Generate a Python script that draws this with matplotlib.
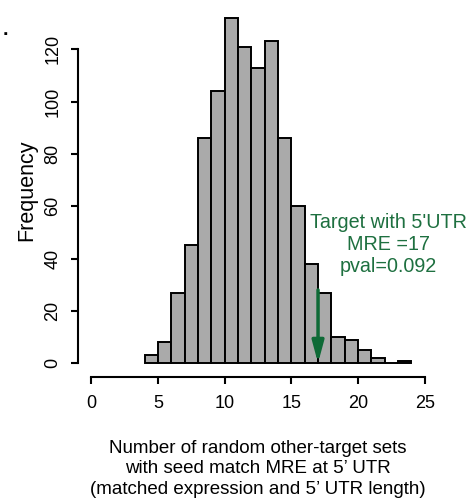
import numpy as np
import matplotlib
matplotlib.use("Agg")
import matplotlib.pyplot as plt

plt.rcParams['font.family'] = ['Liberation Sans', 'DejaVu Sans']

# histogram data (bins of width 1 from 4 to 24)
bin_edges = np.arange(4, 25, 1)
counts = [3, 8, 27, 45, 86, 104, 132, 121, 113, 123, 86, 60, 38, 27, 10, 9, 5, 2, 0, 1]
target_value = 17
arrow_start = 28
annot_text = "Target with 5'UTR\nMRE =17\npval=0.092"
x_ticks = [0, 5, 10, 15, 20, 25]
y_ticks = [0, 20, 40, 60, 80, 100, 120]

fig = plt.figure(figsize=(4.68, 5.03), dpi=100)
ax = fig.add_axes([0.1667, 0.2505, 0.7693, 0.7415])

ax.bar(bin_edges[:-1], counts, width=1, align='edge', color='#aaaaaa',
       edgecolor='black', linewidth=1.4)

ax.set_xlim(-1, 26)
ax.set_ylim(-5.28, 137.28)

for s in ['top', 'right']:
    ax.spines[s].set_visible(False)
ax.spines['left'].set_bounds(0, 120)
ax.spines['bottom'].set_bounds(0, 25)
for s in ['left', 'bottom']:
    ax.spines[s].set_linewidth(1.5)

ax.set_xticks(x_ticks)
ax.set_yticks(y_ticks)
ax.tick_params(axis='both', length=5, width=1.5, labelsize=13)
ax.tick_params(axis='x', pad=8)
ax.tick_params(axis='y', pad=7)
for lab in ax.get_yticklabels():
    lab.set_rotation(90)
    lab.set_va('center')

ax.set_ylabel('Frequency', fontsize=15.5, labelpad=5)
ax.set_xlabel('Number of random other-target sets\nwith seed match MRE at 5\u2019 UTR\n(matched expression and 5\u2019 UTR length)',
              fontsize=13.5, labelpad=20, linespacing=1.27)

# arrow marking the observed target value
ax.annotate('', xy=(target_value, 0), xytext=(target_value, arrow_start),
            arrowprops=dict(arrowstyle='-|>,head_width=0.35,head_length=1.3',
                            color='#0e6a36', lw=2.5, shrinkA=0, shrinkB=0))
ax.text(22.3, 45.3, annot_text, color='#1e7040', fontsize=14.2, ha='center',
        va='center', linespacing=1.2, clip_on=False)

fig.text(0.006, 0.93, '.', fontsize=14, fontweight='bold')

fig.savefig('out.png', dpi=100)
